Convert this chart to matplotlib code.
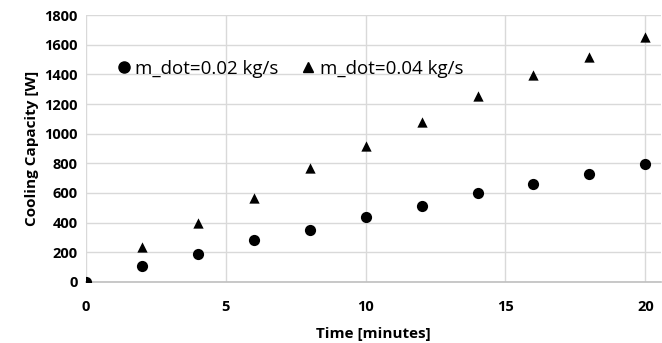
import matplotlib
matplotlib.use("Agg")
import matplotlib.pyplot as plt
from matplotlib.lines import Line2D

time_min = [0, 2, 4, 6, 8, 10, 12, 14, 16, 18, 20]
cap_002 = [0, 110, 189, 283, 350, 440, 514, 597, 658, 725, 793]
cap_004 = [0, 238, 400, 566, 766, 916, 1082, 1253, 1399, 1518, 1652]
label_002 = "m_dot=0.02 kg/s"
label_004 = "m_dot=0.04 kg/s"
x_ticks = [0, 5, 10, 15, 20]
y_ticks = list(range(0, 1801, 200))

plt.rcParams['font.family'] = ['Open Sans', 'DejaVu Sans']

fig = plt.figure(figsize=(6.62, 3.43), dpi=100)
ax = fig.add_axes([0.130, 0.178, 0.868, 0.778])

ax.scatter(time_min, cap_004, marker='^', s=55, color='black', zorder=3, linewidths=0)
ax.scatter(time_min, cap_002, marker='o', s=65, color='black', zorder=4, linewidths=0)

ax.set_xlim(0, 20.55)
ax.set_ylim(0, 1800)
ax.set_xticks(x_ticks)
ax.set_yticks(y_ticks)
ax.grid(True, color='#d9d9d9', linewidth=1.0)
ax.set_axisbelow(True)
for s in ['top', 'right', 'left']:
    ax.spines[s].set_visible(False)
ax.spines['bottom'].set_color('#bfbfbf')
ax.spines['bottom'].set_linewidth(1.2)
ax.tick_params(length=0, labelsize=10.5, colors='black')
for lab in ax.get_xticklabels() + ax.get_yticklabels():
    lab.set_fontweight('bold')
ax.tick_params(axis='y', pad=6)
ax.tick_params(axis='x', pad=13)

ax.set_xlabel('Time [minutes]', fontsize=11, fontweight='bold', labelpad=9)
ax.set_ylabel('Cooling Capacity [W]', fontsize=11, fontweight='bold', labelpad=4)

handles = [Line2D([], [], marker='o', linestyle='none', color='black', markersize=8),
           Line2D([], [], marker='^', linestyle='none', color='black', markersize=7)]
leg = ax.legend(handles, [label_002, label_004], loc='upper left', bbox_to_anchor=(0.02, 0.895),
                ncol=2, frameon=False, fontsize=13.5, handletextpad=0.1, columnspacing=1.1,
                handlelength=1.0)

fig.savefig('out.png', dpi=100)
